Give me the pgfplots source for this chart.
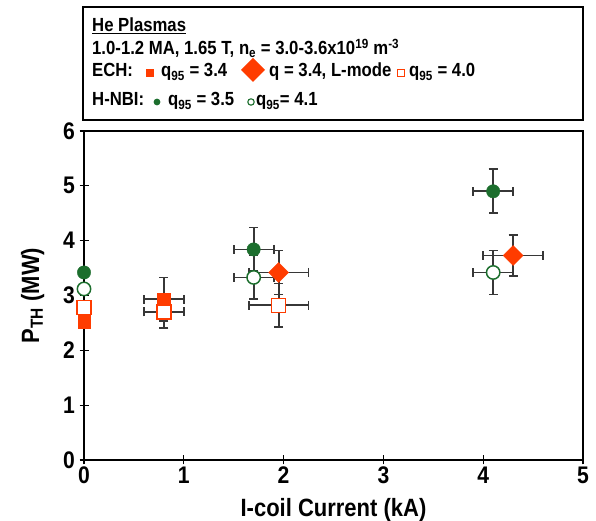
\documentclass[border=0pt]{standalone}
\usepackage{fontspec}
\setmainfont{Liberation Sans}[FakeStretch=0.88]
\usepackage{pgfplots}
\pgfplotsset{compat=1.18}

\definecolor{echred}{RGB}{255,60,0}
\definecolor{nbigreen}{RGB}{28,110,45}
\definecolor{errgray}{RGB}{55,55,55}

% ECH, q95 = 3.4 (filled squares)
\pgfplotstableread{
x    y     ex   ey
0.80 2.93  0.20 0.40
}\echA
% ECH, q = 3.4, L-mode (diamonds)
\pgfplotstableread{
x    y     ex   ey
1.95 3.42  0.30 0.40
4.30 3.73  0.30 0.38
}\echL
% ECH, q95 = 4.0 (open squares)
\pgfplotstableread{
x    y     ex   ey
0.80 2.70  0.20 0.30
1.95 2.82  0.30 0.40
}\echB
% H-NBI, q95 = 3.5 (filled circles)
\pgfplotstableread{
x    y     ex   ey
1.70 3.84  0.20 0.40
4.10 4.90  0.20 0.40
}\nbiA
% H-NBI, q95 = 4.1 (open circles)
\pgfplotstableread{
x    y     ex   ey
1.70 3.33  0.20 0.40
4.10 3.42  0.20 0.40
}\nbiB

\newcommand{\lgfont}{\fontsize{19}{21}\selectfont\bfseries}

\begin{document}
\begin{tikzpicture}
\begin{axis}[
  scale only axis,
  width=499pt, height=329pt,
  xmin=0, xmax=5, ymin=0, ymax=6,
  xtick={0,1,2,3,4,5}, ytick={0,1,2,3,4,5,6},
  xtick pos=left, ytick pos=left,
  tick align=center,
  major tick length=9pt,
  tick style={black, line width=1.2pt},
  axis line style={line width=2.2pt},
  /pgf/number format/assume math mode=true,
  ticklabel style={font=\fontsize{24}{24}\selectfont\bfseries},
  xticklabel style={yshift=1pt},
  yticklabel style={xshift=-1pt},
  xlabel={I-coil Current (kA)},
  ylabel={P\textsubscript{TH} (MW)},
  xlabel style={font=\fontsize{25}{25}\selectfont\bfseries, yshift=-7pt},
  ylabel style={font=\fontsize{25}{25}\selectfont\bfseries, yshift=12pt},
  clip=false,
  error bars/error bar style={errgray, line width=1.8pt},
  error bars/error mark options={errgray, line width=1.8pt, mark size=4.5pt, rotate=90},
]
% points at zero coil current (no error bars)
\addplot[only marks, mark=square*, mark size=7pt,
  mark options={draw=echred, fill=white, line width=1.5pt}]
  coordinates {(0,2.78)};
\addplot[only marks, mark=square*, mark size=6.2pt,
  mark options={draw=echred, fill=echred}]
  coordinates {(0,2.52)};
\addplot[only marks, mark=*, mark size=6.7pt,
  mark options={draw=nbigreen, fill=white, line width=1.5pt}]
  coordinates {(0,3.12)};
\addplot[only marks, mark=*, mark size=6.7pt,
  mark options={draw=nbigreen, fill=nbigreen}]
  coordinates {(0,3.42)};

% ECH q95 = 4.0
\addplot[only marks, mark=square*, mark size=7pt,
  mark options={draw=echred, fill=white, line width=1.5pt},
  error bars/.cd, x dir=both, x explicit, y dir=both, y explicit]
  table[x=x, y=y, x error=ex, y error=ey] {\echB};
% ECH q95 = 3.4
\addplot[only marks, mark=square*, mark size=6.2pt,
  mark options={draw=echred, fill=echred},
  error bars/.cd, x dir=both, x explicit, y dir=both, y explicit]
  table[x=x, y=y, x error=ex, y error=ey] {\echA};
% H-NBI q95 = 4.1
\addplot[only marks, mark=*, mark size=6.7pt,
  mark options={draw=nbigreen, fill=white, line width=1.5pt},
  error bars/.cd, x dir=both, x explicit, y dir=both, y explicit]
  table[x=x, y=y, x error=ex, y error=ey] {\nbiB};
% H-NBI q95 = 3.5
\addplot[only marks, mark=*, mark size=6.7pt,
  mark options={draw=nbigreen, fill=nbigreen},
  error bars/.cd, x dir=both, x explicit, y dir=both, y explicit]
  table[x=x, y=y, x error=ex, y error=ey] {\nbiA};
% ECH L-mode
\addplot[only marks, mark=square*, mark size=7.1pt,
  mark options={draw=echred, fill=echred, rotate=45},
  error bars/.cd, x dir=both, x explicit, y dir=both, y explicit]
  table[x=x, y=y, x error=ex, y error=ey] {\echL};
\end{axis}

% key box above the axis
\draw[line width=2.4pt] (-1pt,340pt) rectangle (499pt,453pt);
\node[anchor=base west, inner sep=0, font=\lgfont] at (8pt,428pt)
  {\underline{He Plasmas}};
\node[anchor=base west, inner sep=0, font=\lgfont] at (8pt,405pt)
  {1.0-1.2 MA, 1.65 T, n\textsubscript{e} = 3.0-3.6x10\textsuperscript{19} m\textsuperscript{-3}};
% ECH line
\node[anchor=base west, inner sep=0, font=\lgfont] at (8pt,383pt) {ECH:};
\fill[echred] (66pt,387pt) ++(-4.2pt,-4.2pt) rectangle ++(8.4pt,8.4pt);
\node[anchor=base west, inner sep=0, font=\lgfont] at (77pt,383pt) {q\textsubscript{95} = 3.4};
\fill[echred] (181pt,390pt) -- ++(-12pt,12pt) -- ++(-12pt,-12pt) -- ++(12pt,-12pt) -- cycle;
\node[anchor=base west, inner sep=0, font=\lgfont] at (185pt,383pt) {q = 3.4, L-mode};
\draw[echred, line width=1.1pt] (317pt,387pt) ++(-3.8pt,-3.8pt) rectangle ++(7.6pt,7.6pt);
\node[anchor=base west, inner sep=0, font=\lgfont] at (325pt,383pt) {q\textsubscript{95} = 4.0};
% H-NBI line
\node[anchor=base west, inner sep=0, font=\lgfont] at (8pt,354pt) {H-NBI:};
\fill[nbigreen] (73pt,358pt) circle (3.4pt);
\node[anchor=base west, inner sep=0, font=\lgfont] at (84pt,354pt) {q\textsubscript{95} = 3.5};
\draw[nbigreen, line width=1.1pt] (167pt,358pt) circle (3.2pt);
\node[anchor=base west, inner sep=0, font=\lgfont] at (172pt,354pt) {q\textsubscript{95}= 4.1};

\pgfresetboundingbox
\path[use as bounding box] (-84pt,-61pt) rectangle (512pt,460pt);
\end{tikzpicture}
\end{document}
